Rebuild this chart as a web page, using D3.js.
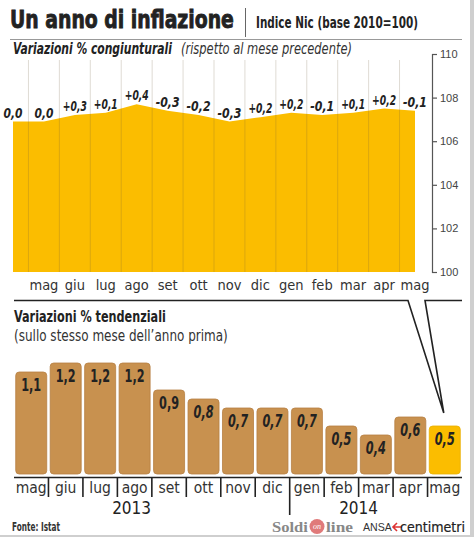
<!DOCTYPE html>
<html>
<head>
<meta charset="utf-8">
<script src="https://cdn.jsdelivr.net/npm/d3@7"></script>
<style>
  html, body { margin: 0; padding: 0; background: #fff; }
  svg { display: block; }
</style>
</head>
<body>
<script>
// ---- DATA ----
const topMonths = ["mag","giu","lug","ago","set","ott","nov","dic","gen","feb","mar","apr","mag"];
// Indice NIC, apr 2013 .. mag 2014 (14 points, first unlabelled)
const indexValues = [106.9,106.9,107.2,107.3,107.7,107.4,107.2,106.9,107.1,107.3,107.2,107.3,107.5,107.4];
const monthlyChange = [0.0,0.0,0.3,0.1,0.4,-0.3,-0.2,-0.3,0.2,0.2,-0.1,0.1,0.2,-0.1];
const yTicks = [100,102,104,106,108,110];

const barMonths = ["mag","giu","lug","ago","set","ott","nov","dic","gen","feb","mar","apr","mag"];
const yearlyChange = [1.1,1.2,1.2,1.2,0.9,0.8,0.7,0.7,0.7,0.5,0.4,0.6,0.5];
const yearLabels = ["2013","2014"];

// ---- DRAW ----
const W = 474, H = 537;
const svg = d3.select("body").append("svg").attr("width", W).attr("height", H);
const NARROW = '"Liberation Sans Narrow", "DejaVu Sans Condensed", Roboto, sans-serif';
const YELLOW = "#FBBD00", BROWN = "#C8914F", INK = "#222";

svg.append("rect").attr("width", W).attr("height", H).attr("fill", "#fff");
svg.append("rect").attr("x", 470).attr("y", 0).attr("width", 4).attr("height", H).attr("fill", "#cfcfcf");
svg.append("rect").attr("x", 0).attr("y", 535).attr("width", W).attr("height", 2).attr("fill", "#cfcfcf");

// text fitted horizontally to a target width via a scale transform
function txt(x, y, s, o) {
  const t = svg.append("text").attr("x", 0).attr("y", 0).text(s)
    .attr("font-family", o.family || NARROW)
    .attr("font-size", o.size)
    .attr("font-weight", o.weight || "normal")
    .attr("font-style", o.style || "normal")
    .attr("fill", o.fill || INK)
    .attr("text-anchor", o.anchor || "start");
  if (o.stroke) t.attr("stroke", o.fill || INK).attr("stroke-width", o.stroke);
  let sx = 1;
  if (o.len) {
    const nat = t.node().getComputedTextLength();
    if (nat > 0) sx = o.len / nat;
  }
  t.attr("transform", `translate(${x},${y}) scale(${sx},1)`);
  return t;
}

// Header
txt(10, 28, "Un anno di inflazione", {size: 24, weight: "bold", len: 224, stroke: 0.8});
svg.append("line").attr("x1", 245.5).attr("x2", 245.5).attr("y1", 8).attr("y2", 37).attr("stroke", "#666").attr("stroke-width", 1);
txt(256, 28, "Indice Nic (base 2010=100)", {size: 15, weight: "bold", len: 162});
svg.append("line").attr("x1", 10).attr("x2", 462).attr("y1", 39.5).attr("y2", 39.5).attr("stroke", "#999").attr("stroke-width", 1);
txt(13, 54, "Variazioni % congiunturali", {size: 15, weight: "bold", style: "italic", len: 159});
txt(181, 54, "(rispetto al mese precedente)", {size: 15, style: "italic", len: 171, fill: "#333"});

// Top chart (area)
const xp = d3.scalePoint().domain(d3.range(indexValues.length)).range([13, 415]);
const yi = d3.scaleLinear().domain([100, 110]).range([272, 54]);

const area = d3.area()
  .x((d, i) => xp(i))
  .y0(yi(100))
  .y1(d => yi(d));
svg.append("path").datum(indexValues).attr("d", area).attr("fill", YELLOW);

// vertical gridlines between points
const gridX = d3.range(indexValues.length - 1).map(i => (xp(i) + xp(i + 1)) / 2);
svg.append("g").selectAll("line").data(gridX).join("line")
  .attr("x1", d => d).attr("x2", d => d)
  .attr("y1", 60).attr("y2", yi(100))
  .attr("stroke", "rgba(110,90,60,0.22)").attr("stroke-width", 1);

const fmt = v => (v > 0 ? "+" : (v < 0 ? "-" : "")) + d3.format(".1f")(Math.abs(v)).replace(".", ",");
monthlyChange.forEach((d, i) => {
  txt(xp(i), yi(indexValues[i]) - 4, fmt(d),
    {size: 14, weight: "bold", style: "italic", anchor: "middle", len: d === 0 ? 19 : 24});
});

svg.append("g").selectAll("text").data(topMonths).join("text")
  .attr("x", (d, i) => xp(i + 1)).attr("y", 290)
  .attr("text-anchor", "middle")
  .attr("font-family", NARROW).attr("font-size", 14.5).attr("fill", "#333").text(d => d);

const yAxis = d3.axisRight(yi).tickValues(yTicks).tickSize(5).tickSizeOuter(5).tickPadding(3);
const ga = svg.append("g").attr("transform", "translate(432,0)").call(yAxis);
ga.select(".domain").attr("stroke", "#555").attr("stroke-width", 1.2);
ga.selectAll(".tick line").attr("stroke", "#555").attr("stroke-width", 1.2);
ga.selectAll(".tick text").attr("font-family", '"Liberation Sans", Arial, sans-serif').attr("font-size", 11).attr("fill", "#444");

// Bottom chart (bars)
const xb = d3.scaleBand().domain(d3.range(yearlyChange.length)).range([14, 462]).paddingInner(0.1).paddingOuter(0.05);
const yb = d3.scaleLinear().domain([0, 1.2]).range([471, 363]);
const base = 474;
const bw = xb.bandwidth();

// callout lines and separator
const last = yearlyChange.length - 1;
const tipX = xb(last) + bw / 2 - 1, tipY = yb(yearlyChange[last]) - 13;
svg.append("path")
  .attr("d", `M14,300.5H408L${tipX},${tipY}L425,300.5H462`)
  .attr("fill", "none").attr("stroke", INK).attr("stroke-width", 1.6).attr("stroke-linejoin", "miter");

txt(14, 322, "Variazioni % tendenziali", {size: 16, weight: "bold", len: 152});
txt(14, 341, "(sullo stesso mese dell\u2019anno prima)", {size: 15, len: 214, fill: "#333"});

svg.append("g").selectAll("rect").data(yearlyChange).join("rect")
  .attr("x", (d, i) => xb(i)).attr("width", bw)
  .attr("y", d => yb(d)).attr("height", d => base - yb(d))
  .attr("rx", 3.5).attr("ry", 3.5)
  .attr("fill", (d, i) => i === last ? YELLOW : BROWN)
  .attr("stroke", (d, i) => i === last ? "#E8AE00" : "#B67F42").attr("stroke-width", 0.8);

yearlyChange.forEach((d, i) => {
  txt(xb(i) + bw / 2, yb(d) + 19, d3.format(".1f")(d).replace(".", ","),
    {size: 17, weight: "bold", style: i >= 5 ? "italic" : "normal", anchor: "middle", len: 20});
});

svg.append("line").attr("x1", 14).attr("x2", 462).attr("y1", 477.5).attr("y2", 477.5).attr("stroke", INK).attr("stroke-width", 1.6);
const sepX = d3.range(1, yearlyChange.length).map(i => xb(i) - xb.step() * xb.paddingInner() / 2);
svg.append("g").selectAll("line").data(sepX).join("line")
  .attr("x1", d => d).attr("x2", d => d)
  .attr("y1", 477).attr("y2", (d, i) => i === 7 ? 515 : 497)
  .attr("stroke", INK).attr("stroke-width", 1.6);

svg.append("g").selectAll("text").data(barMonths).join("text")
  .attr("x", (d, i) => xb(i) + bw / 2).attr("y", 493)
  .attr("text-anchor", "middle")
  .attr("font-family", NARROW).attr("font-size", 15.5).attr("fill", "#333").text(d => d);

const yearX = [xb(3) + bw / 2 - 3, (xb(9) + bw + xb(10)) / 2];
svg.append("g").selectAll("text").data(yearLabels).join("text")
  .attr("x", (d, i) => yearX[i]).attr("y", 514)
  .attr("text-anchor", "middle")
  .attr("font-family", NARROW).attr("font-size", 17).attr("fill", INK).text(d => d);

// Footer
txt(12, 531, "Fonte: Istat", {size: 12, weight: "bold", len: 48, fill: "#333"});
const SERIF = '"Liberation Serif", "DejaVu Serif", serif';
txt(272, 532, "Soldi", {family: SERIF, size: 15, weight: "bold", len: 36, fill: "#888"});
svg.append("circle").attr("cx", 317).attr("cy", 526.5).attr("r", 7.5).attr("fill", "#E07A7A");
txt(317, 529, "on", {family: SERIF, size: 8, style: "italic", anchor: "middle", fill: "#fff"});
txt(326, 532, "line", {family: SERIF, size: 15, weight: "bold", len: 27, fill: "#888"});
txt(363, 531, "ANSA", {family: '"Liberation Sans", Arial, sans-serif', size: 11, len: 29, fill: "#333"});
svg.append("path").attr("d", "M394,527H402M397,523L393,527L397,531").attr("stroke", "#D33").attr("stroke-width", 1.6).attr("fill", "none");
txt(400, 532, "centimetri", {size: 14, len: 65, fill: INK, stroke: 0.2});
</script>
</body>
</html>
